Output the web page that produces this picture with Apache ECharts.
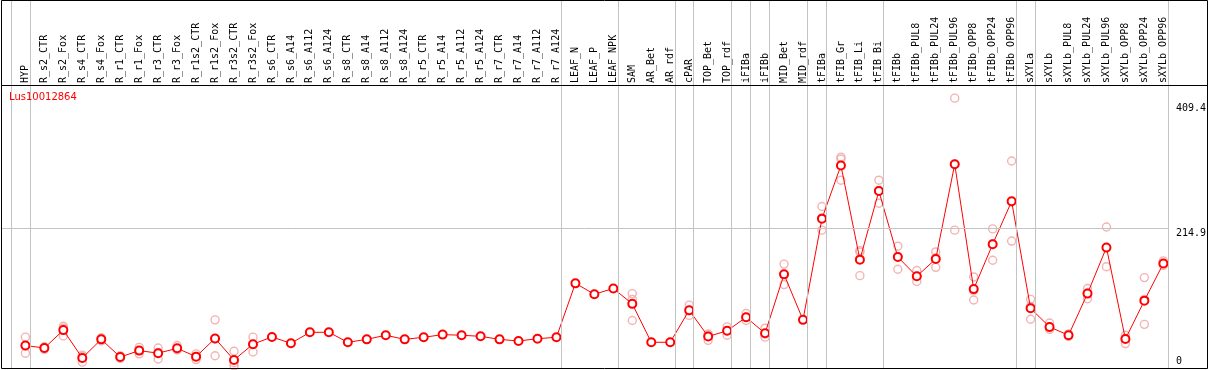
<!DOCTYPE html>
<html>
<head>
<meta charset="utf-8">
<script src="https://cdn.jsdelivr.net/npm/echarts@6/dist/echarts.min.js"></script>
<style>
  html, body { margin: 0; padding: 0; background: #fff; }
  #chart { width: 1209px; height: 370px; }
</style>
</head>
<body>
<div id="chart"></div>
<script>
var geneName = 'Lus10012864';

var categories = ['HYP','R_s2_CTR','R_s2_Fox','R_s4_CTR','R_s4_Fox','R_r1_CTR','R_r1_Fox','R_r3_CTR','R_r3_Fox',
  'R_r1s2_CTR','R_r1s2_Fox','R_r3s2_CTR','R_r3s2_Fox','R_s6_CTR','R_s6_A14','R_s6_A112','R_s6_A124',
  'R_s8_CTR','R_s8_A14','R_s8_A112','R_s8_A124','R_r5_CTR','R_r5_A14','R_r5_A112','R_r5_A124',
  'R_r7_CTR','R_r7_A14','R_r7_A112','R_r7_A124','LEAF_N','LEAF_P','LEAF_NPK','SAM','AR_Bet','AR_rdf',
  'cPAR','TOP_Bet','TOP_rdf','iFIBa','iFIBb','MID_Bet','MID_rdf','tFIBa','tFIB_Gr','tFIB_Li','tFIB_Bi',
  'tFIBb','tFIBb_PUL8','tFIBb_PUL24','tFIBb_PUL96','tFIBb_OPP8','tFIBb_OPP24','tFIBb_OPP96',
  'sXYLa','sXYLb','sXYLb_PUL8','sXYLb_PUL24','sXYLb_PUL96','sXYLb_OPP8','sXYLb_OPP24','sXYLb_OPP96'];

// mean expression per sample
var means = [32, 28, 56, 12.5, 41.6, 14, 24, 20, 27.6, 14.6, 43, 9.4, 34,
  45.3, 35.4, 52.6, 52.6, 37, 41.6, 48, 41.6, 44.8, 49, 48, 46.3, 41.6, 39, 42.6, 44.8,
  129, 112, 121, 97, 37, 37, 87, 46, 55, 76, 51, 143, 72,
  230, 313, 166, 273, 170, 140, 167, 315, 120, 190, 257,
  90, 61, 48, 113, 185, 42, 102, 160];

// individual replicates (null = not shown)
var rep1 = [45, 30, 62, 17, 44, 16, 29, 28, 32, 19, 72, 23, 45,
  null, null, null, null, null, null, null, null, null, null, null, null, null, null, null, null,
  null, null, null, 113, null, null, 95, 50, 61, 82, 59, 159, null,
  249, 326, 180, 290, 187, 149, 178, 418, 139, 214, 320,
  104, 67, 50, 121, 217, 48, 138, 164];
var rep2 = [31, 28, 59, 15, 42, 14, 24, 21, 26, 15, 42, 5, 34,
  null, null, null, null, null, null, null, null, null, null, null, null, null, null, null, null,
  null, null, null, 104, null, null, 86, 48, 55, 76, 50, 143, null,
  231, 323, 178, 274, 171, 140, 169, 315, 118, 191, 256,
  93, 60, 48, 114, 184, 43, 104, 160];
var rep3 = [20, 26, 47, 6, 39, 12, 19, 11, 25, 10, 16, 0, 22,
  null, null, null, null, null, null, null, null, null, null, null, null, null, null, null, null,
  null, null, null, 71, null, null, 79, 40, 48, 71, 45, 127, null,
  212, 290, 141, 254, 151, 132, 154, 212, 103, 165, 195,
  73, 57, 46, 105, 155, 35, 65, 157];

// sample groups end after these indices (-1 = left edge)
var groupEnds = [-1, 0, 28, 31, 34, 35, 37, 38, 39, 41, 42, 45, 52, 53, 60];

var yTicksTop = [214.9, 409.4];
var yTicksBottom = [0];

var repData = [];
[rep1, rep2, rep3].forEach(function (r) {
  r.forEach(function (v, i) { if (v != null) repData.push([i, v]); });
});
var meanData = means.map(function (v, i) { return [i, v]; });
var catIdx = categories.map(function (c, i) { return i; });

var xMin = -1.286, xMax = 60.24;
var yMin = -3.12, yMax = 571.2;

var chart = echarts.init(document.getElementById('chart'));
chart.setOption({
  animation: false,
  title: {
    text: geneName, left: 9, top: 92, padding: 0,
    textStyle: { color: '#ff0000', fontSize: 10, fontWeight: 'normal', fontFamily: 'DejaVu Sans' }
  },
  grid: { left: 1, right: 39, top: 0, bottom: 2 },
  xAxis: {
    type: 'value', position: 'top', offset: -85,
    min: xMin, max: xMax,
    axisLine: { show: false }, axisTick: { show: false }, splitLine: { show: false },
    axisLabel: {
      customValues: catIdx, rotate: 90, margin: 2,
      fontFamily: 'DejaVu Sans Mono', fontSize: 10, color: '#000',
      formatter: function (v) { return categories[Math.round(v)]; }
    }
  },
  yAxis: [{
    type: 'value', position: 'right', min: yMin, max: yMax,
    axisLine: { show: false }, axisTick: { show: false }, splitLine: { show: false },
    axisLabel: {
      customValues: yTicksTop, verticalAlign: 'top', margin: 8,
      fontFamily: 'DejaVu Sans Mono', fontSize: 10, color: '#000',
      formatter: function (v) { return String(v); }
    }
  }, {
    type: 'value', position: 'right', min: yMin, max: yMax,
    axisLine: { show: false }, axisTick: { show: false }, splitLine: { show: false },
    axisLabel: {
      customValues: yTicksBottom, verticalAlign: 'bottom', margin: 8,
      fontFamily: 'DejaVu Sans Mono', fontSize: 10, color: '#000',
      formatter: function (v) { return String(v); }
    }
  }],
  graphic: [
    { type: 'rect', z: 100, silent: true, shape: { x: 1.5, y: 0.5, width: 1206, height: 368 },
      style: { fill: null, stroke: '#000', lineWidth: 1 } },
    { type: 'line', z: 100, silent: true, shape: { x1: 1, y1: 85.5, x2: 1207, y2: 85.5 },
      style: { stroke: '#000', lineWidth: 1 } }
  ],
  series: [{
    name: 'replicates', type: 'scatter', data: repData, z: 3,
    symbol: 'circle', symbolSize: 8,
    itemStyle: { color: 'rgba(0,0,0,0)', borderColor: '#f0a0a0', borderWidth: 1.4 },
    markLine: {
      silent: true, symbol: 'none', label: { show: false },
      lineStyle: { color: '#c4c4c4', width: 1, type: 'solid' },
      data: groupEnds.map(function (k) { return { xAxis: k + 0.24 }; })
        .concat([{ yAxis: 214.9 }])
    }
  }, {
    name: 'mean', type: 'line', data: meanData, z: 4,
    symbol: 'emptyCircle', symbolSize: 8,
    lineStyle: { color: '#ff0000', width: 1 },
    itemStyle: { color: '#ff0000', borderColor: '#ff0000', borderWidth: 1.2 }
  }]
});
</script>
</body>
</html>
